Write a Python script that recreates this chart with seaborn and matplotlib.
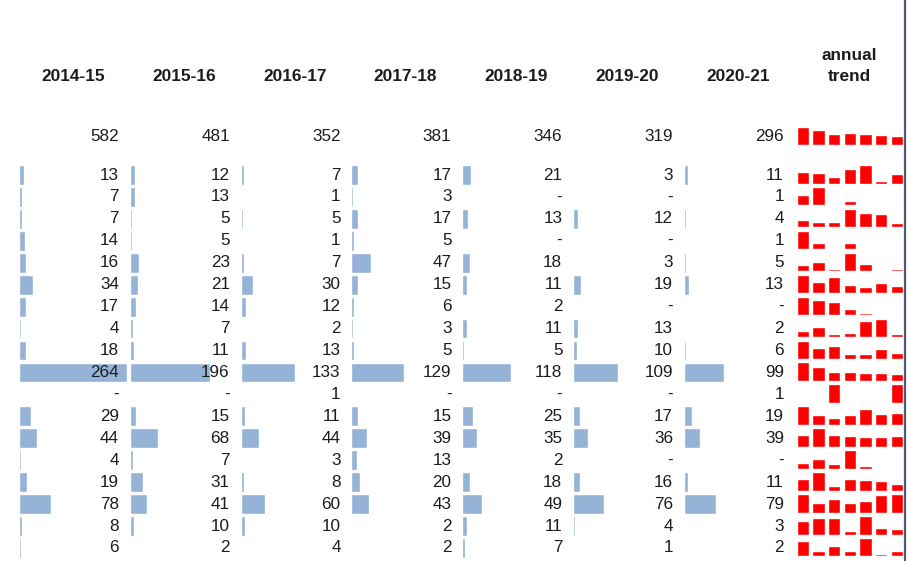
import numpy as np
import pandas as pd
import matplotlib
matplotlib.use("Agg")
import matplotlib.pyplot as plt
import seaborn as sns

sns.set_theme(style="white")
plt.rcParams["font.family"] = ["Liberation Sans", "DejaVu Sans"]

# ---- data ---------------------------------------------------------------
years = ["2014-15", "2015-16", "2016-17", "2017-18", "2018-19", "2019-20", "2020-21"]
totals = [582, 481, 352, 381, 346, 319, 296]

# one list per year, 18 rows each (None = no cases, shown as "-")
y2014 = [13, 7, 7, 14, 16, 34, 17, 4, 18, 264, None, 29, 44, 4, 19, 78, 8, 6]
y2015 = [12, 13, 5, 5, 23, 21, 14, 7, 11, 196, None, 15, 68, 7, 31, 41, 10, 2]
y2016 = [7, 1, 5, 1, 7, 30, 12, 2, 13, 133, 1, 11, 44, 3, 8, 60, 10, 4]
y2017 = [17, 3, 17, 5, 47, 15, 6, 3, 5, 129, None, 15, 39, 13, 20, 43, 2, 2]
y2018 = [21, None, 13, None, 18, 11, 2, 11, 5, 118, None, 25, 35, 2, 18, 49, 11, 7]
y2019 = [3, None, 12, None, 3, 19, None, 13, 10, 109, None, 17, 36, None, 16, 76, 4, 1]
y2020 = [11, 1, 4, 1, 5, 13, None, 2, 6, 99, 1, 19, 39, None, 11, 79, 3, 2]

columns = [y2014, y2015, y2016, y2017, y2018, y2019, y2020]
n_rows = len(y2014)

long = pd.DataFrame({
    "year": np.repeat(years, n_rows),
    "row": np.tile(np.arange(n_rows), len(years)),
    "value": pd.to_numeric(pd.Series(sum(columns, [])), errors="coerce"),
})

# ---- layout helpers (pixel geometry of a 910x561 canvas) ----------------
W, H = 910, 561
fig = plt.figure(figsize=(W / 100, H / 100), dpi=100)
fig.patch.set_facecolor("white")


def add_axes_px(left, top, width, height):
    return fig.add_axes([left / W, 1 - (top + height) / H, width / W, height / H])


BLUE = "#95b3d7"
RED = "#ff0000"
TXT = "#1c1c1c"
NUM_SIZE = 12.3
HEAD_SIZE = 12.4

row_h = 21.94
first_row_y = 175.0
grid_top = first_row_y - row_h / 2
grid_h = n_rows * row_h
col_start0 = 19.0
col_step = 110.83
cell_w = 110.0
bar_scale_max = max(long["value"].max(), 1) * cell_w / 108.0

total_y = (136.7 - first_row_y) / row_h
header_y = (76.5 - first_row_y) / row_h
num_x = 100.0 / cell_w

# ---- year columns: in-cell horizontal bars + numbers --------------------
for i, yr in enumerate(years):
    left = col_start0 + i * col_step
    ax = add_axes_px(left, grid_top, cell_w, grid_h)
    sub = long[long["year"] == yr]
    sns.barplot(data=sub, x="value", y="row", orient="h", order=list(range(n_rows)),
                color=BLUE, saturation=1, width=0.9, ax=ax, errorbar=None)
    ax.set_xlim(0, bar_scale_max)
    ax.set_ylim(n_rows - 0.5, -0.5)
    ax.set_axis_off()

    trans = ax.get_yaxis_transform()
    for r, v in zip(sub["row"], sub["value"]):
        label = "-" if pd.isna(v) else f"{int(v)}"
        ax.text(num_x, r, label, transform=trans,
                ha="right", va="center", fontsize=NUM_SIZE, color=TXT)
    ax.text(num_x, total_y, f"{totals[i]}", transform=trans, ha="right", va="center",
            fontsize=NUM_SIZE, color=TXT, clip_on=False)
    ax.text(54.0 / cell_w, header_y, yr, transform=trans, ha="center", va="center",
            fontsize=HEAD_SIZE, fontweight="bold", color=TXT, clip_on=False)

# ---- annual trend sparklines ---------------------------------------------
spark_left = 794.9
spark_w = 110.0
spark_h = 18.5

fig.text(849 / W, 1 - 55 / H, "annual", ha="center", va="center",
         fontsize=HEAD_SIZE, fontweight="bold", color=TXT)
fig.text(849 / W, 1 - 76.7 / H, "trend", ha="center", va="center",
         fontsize=HEAD_SIZE, fontweight="bold", color=TXT)


def sparkline(values, center_y):
    sax = add_axes_px(spark_left, center_y + 8.5 - spark_h, spark_w, spark_h)
    sdf = pd.DataFrame({"year": years,
                        "value": pd.to_numeric(pd.Series(values), errors="coerce")})
    sns.barplot(data=sdf, x="year", y="value", order=years, color=RED, saturation=1,
                width=0.78, ax=sax, errorbar=None)
    top = np.nanmax(sdf["value"].to_numpy(dtype=float))
    sax.set_ylim(0, top)
    sax.set_xlim(-0.5, len(years) - 0.5)
    sax.set_axis_off()


sparkline(totals, 136.7)
for r in range(n_rows):
    sparkline([col[r] for col in columns], first_row_y + r * row_h)

# right-hand border of the table
border = fig.add_axes([0, 0, 1, 1], facecolor="none")
border.set_axis_off()
border.set_xlim(0, W)
border.set_ylim(H, 0)
border.axvline(904.5, color="#4d5b70", linewidth=1.6)

fig.savefig("out.png", dpi=100, facecolor="white")
